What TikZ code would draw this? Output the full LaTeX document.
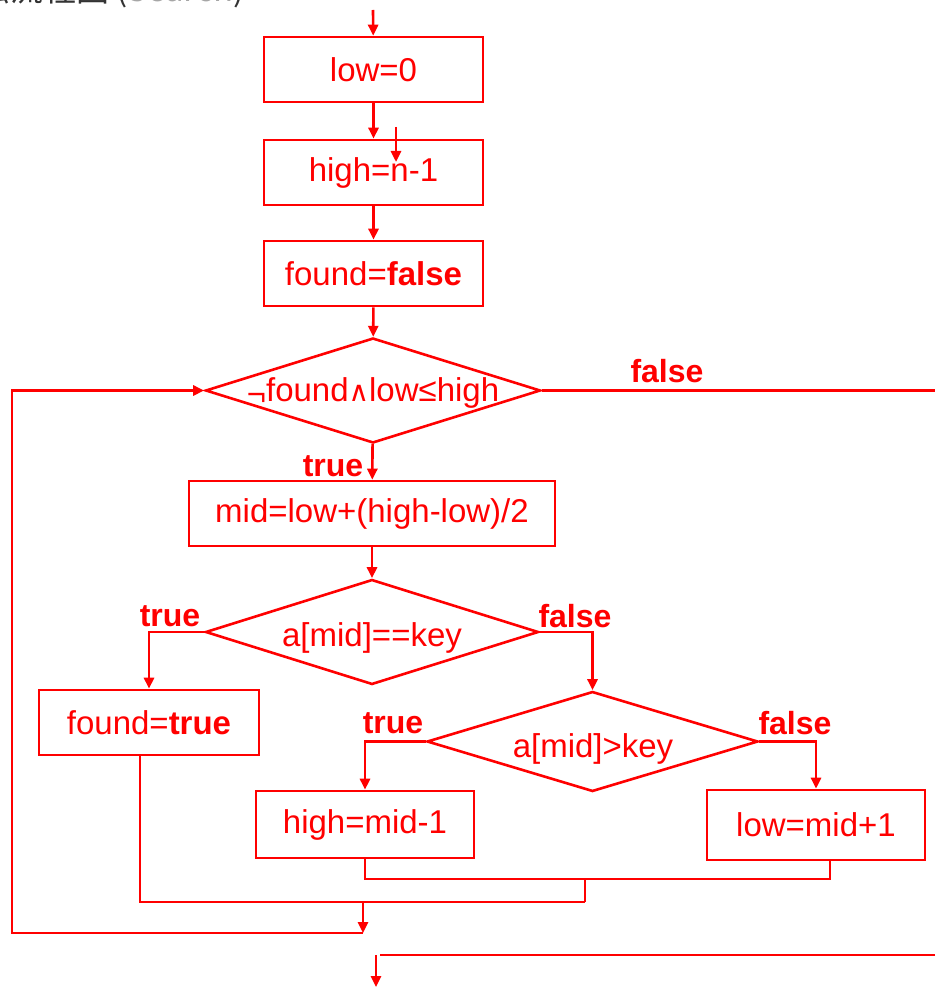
\documentclass[tikz,border=0pt]{standalone}
\usepackage{fontspec}
\setmainfont{Liberation Sans}
\newfontfamily\cjk{Noto Sans CJK SC}
\newfontfamily\dejavu{DejaVu Sans}
\usetikzlibrary{shapes.geometric,arrows.meta}
\definecolor{flowred}{RGB}{255,0,0}
\tikzset{
  flow/.style={draw=flowred, line width=2.6pt},
  arr/.style={flow, -{Triangle[length=11pt,width=10pt]}},
  stepbox/.style={flow, rectangle, inner sep=0pt, text=flowred, font=\fontsize{33}{33}\selectfont},
  decide/.style={flow, diamond, inner sep=0pt},
  txt/.style={text=flowred, inner sep=0pt, font=\fontsize{33}{33}\selectfont},
  tag/.style={text=flowred, inner sep=0pt, font=\fontsize{32}{32}\selectfont\bfseries},
}
\begin{document}
\begin{tikzpicture}[x=1pt,y=-1pt]
\useasboundingbox (0,0) rectangle (935,987);

% heading, partly off the page
\node[anchor=base west, inner sep=0pt, font=\cjk\fontsize{33}{33}\selectfont, text=black!80] (head) at (-56,2) {算法流程图 (\textcolor{black!35}{Search})};

% process boxes
\node[stepbox, minimum width=219pt, minimum height=65pt] (low) at (373.5,69.5) {low=0};
\node[stepbox, minimum width=219pt, minimum height=65pt] (high) at (373.5,172.5) {high=n-1};
\node[stepbox, minimum width=219pt, minimum height=65pt] (found) at (373.5,273.5) {found=\textbf{false}};
\node[stepbox, minimum width=366pt, minimum height=65pt] (mid) at (372,513.5) {mid=low+(high-low)/2};
\node[stepbox, minimum width=220pt, minimum height=65pt] (ft) at (149,722.5) {found=\textbf{true}};
\node[stepbox, minimum width=218pt, minimum height=67pt] (hm) at (365,824.5) {high=mid-1};
\node[stepbox, minimum width=218pt, minimum height=70pt] (lm) at (816,825) {low=mid+1};

% decisions
\node[decide, minimum width=335pt, minimum height=105pt] (d1) at (373,390.5) {};
\node[txt] (d1t) at (373,393) {\raisebox{-4pt}{¬}found{\dejavu\fontsize{28}{28}\selectfont ∧}low≤high};
\node[decide, minimum width=333pt, minimum height=105pt] (d2) at (372,632) {};
\node[txt] (d2t) at (372,638) {a[mid]==key};
\node[decide, minimum width=331pt, minimum height=100pt] (d3) at (592.5,741.5) {};
\node[txt] (d3t) at (593,749) {a[mid]>key};

% branch tags
\node[tag] (f1) at (667,371) {false};
\node[tag] (t1) at (333,466) {true};
\node[tag] (t2) at (170,616) {true};
\node[tag] (f2) at (575,616) {false};
\node[tag] (t3) at (393,723) {true};
\node[tag] (f3) at (795,723) {false};

% free ends and junctions
\coordinate (start) at (373,10);
\coordinate (s1) at (396,127);
\coordinate (s2) at (396,162);
\coordinate (exitR) at (935,390.5);
\coordinate (exitB) at (935,955);
\coordinate (exitL) at (380,955);
\coordinate (out1) at (376,955);
\coordinate (out2) at (376,987);
\coordinate (lmb) at (830,860);
\coordinate (j1) at (585,879);
\coordinate (j2) at (585,902);
\coordinate (ftb) at (140,755);
\coordinate (j3) at (363,902);
\coordinate (loopend) at (363,933);
\coordinate (lc) at (12,933);

% main sequence
\draw[arr] (start) -- (low);
\draw[arr] (low) -- (high);
\draw[arr] (s1) -- (s2);
\draw[arr] (high) -- (found);
\draw[arr] (found) -- (d1);
\draw[arr] (d1) -- (mid);
\draw[arr] (mid) -- (d2);
\draw[flow] (d1.east) -- (exitR);
\draw[flow] (exitB) -- (exitL);
\draw[arr] (out1) -- (out2);

% branches
\draw[arr] (d2.west) -| (ft.north);
\draw[arr] (d2.east) -| (d3.north);
\draw[arr] (d3.west) -| (hm.north);
\draw[arr] (d3.east) -| (lm.north);

% joins and loop back
\draw[flow] (hm.south) |- (j1);
\draw[flow] (j1) -| (lmb);
\draw[flow] (j1) -- (j2);
\draw[flow] (j2) -| (ftb);
\draw[arr] (j3) -- (loopend);
\draw[arr] (loopend) -- (lc) |- (d1.west);
\end{tikzpicture}
\end{document}
